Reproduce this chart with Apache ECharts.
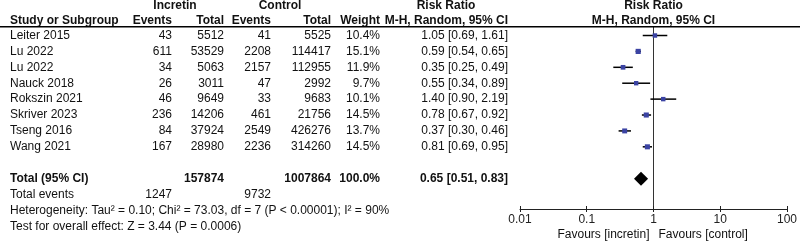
<!DOCTYPE html>
<html>
<head>
<meta charset="utf-8">
<script src="https://cdn.jsdelivr.net/npm/echarts@6/dist/echarts.min.js"></script>
<style>
  html, body { margin: 0; padding: 0; background: #fff; }
  #chart { width: 800px; height: 243px; }
</style>
</head>
<body>
<div id="chart"></div>
<script>
// study level data
const studies = ['Leiter 2015', 'Lu 2022', 'Lu 2022', 'Nauck 2018', 'Rokszin 2021', 'Skriver 2023', 'Tseng 2016', 'Wang 2021'];
const incEvents = [43, 611, 34, 26, 46, 236, 84, 167];
const incTotal = [5512, 53529, 5063, 3011, 9649, 14206, 37924, 28980];
const ctlEvents = [41, 2208, 2157, 47, 33, 461, 2549, 2236];
const ctlTotal = [5525, 114417, 112955, 2992, 9683, 21756, 426276, 314260];
const weights = [10.4, 15.1, 11.9, 9.7, 10.1, 14.5, 13.7, 14.5];
const rr = [1.05, 0.59, 0.35, 0.55, 1.40, 0.78, 0.37, 0.81];
const ciLow = [0.69, 0.54, 0.25, 0.34, 0.90, 0.67, 0.30, 0.69];
const ciHigh = [1.61, 0.65, 0.49, 0.89, 2.19, 0.92, 0.46, 0.95];

// pooled
const pooled = [0.65, 0.51, 0.83];
const pooledTotals = [157874, 1007864];
const pooledEvents = [1247, 9732];
const heterogeneityText = 'Heterogeneity: Tau\u00b2 = 0.10; Chi\u00b2 = 73.03, df = 7 (P < 0.00001); I\u00b2 = 90%';
const overallText = 'Test for overall effect: Z = 3.44 (P = 0.0006)';

const tickValues = [0.01, 0.1, 1, 10, 100];
const tickLabels = ['0.01', '0.1', '1', '10', '100'];
const noEffect = 1;

const FONT = "'Liberation Sans', Arial, sans-serif";
const TXT = '#111';
const totalRow = studies.length + 1;
const rowMin = -0.535, rowMax = 10.91;
const gridLeft = 520;

// column anchors (px)
const col = {study: 10, incEv: 172, incTot: 224, ctlEv: 271, ctlTot: 331, weight: 380, ci: 508};

const fmtCI = (a, b, c) => a.toFixed(2) + ' [' + b.toFixed(2) + ', ' + c.toFixed(2) + ']';

// lines of the left table: row index + cells [x, align, text, bold]
const lines = [];
lines.push({row: -1.9, cells: [[175, 'center', 'Incretin', 1], [280, 'center', 'Control', 1], [446, 'center', 'Risk Ratio', 1], ['fp', 'center', 'Risk Ratio', 1]]});
lines.push({row: -0.95, cells: [[col.study, 'left', 'Study or Subgroup', 1], [col.incEv, 'right', 'Events', 1], [col.incTot, 'right', 'Total', 1],
  [col.ctlEv, 'right', 'Events', 1], [col.ctlTot, 'right', 'Total', 1], [col.weight, 'right', 'Weight', 1],
  [col.ci, 'right', 'M-H, Random, 95% CI', 1], ['fp', 'center', 'M-H, Random, 95% CI', 1]]});
studies.forEach((s, i) => {
  lines.push({row: i, cells: [[col.study, 'left', s], [col.incEv, 'right', incEvents[i]], [col.incTot, 'right', incTotal[i]],
    [col.ctlEv, 'right', ctlEvents[i]], [col.ctlTot, 'right', ctlTotal[i]], [col.weight, 'right', weights[i].toFixed(1) + '%'],
    [col.ci, 'right', fmtCI(rr[i], ciLow[i], ciHigh[i])]]});
});
lines.push({row: totalRow, cells: [[col.study, 'left', 'Total (95% CI)', 1], [col.incTot, 'right', pooledTotals[0], 1],
  [col.ctlTot, 'right', pooledTotals[1], 1], [col.weight, 'right', '100.0%', 1], [col.ci, 'right', fmtCI(pooled[0], pooled[1], pooled[2]), 1]]});
lines.push({row: totalRow + 1, cells: [[col.study, 'left', 'Total events'], [col.incEv, 'right', pooledEvents[0]], [col.ctlEv, 'right', pooledEvents[1]]]});
lines.push({row: totalRow + 2, cells: [[col.study, 'left', heterogeneityText]]});
lines.push({row: totalRow + 3, cells: [[col.study, 'left', overallText]]});
lines.push({row: totalRow + 3.55, cells: [['fl', 'right', 'Favours [incretin]'], ['fr', 'left', 'Favours [control]']]});

const chart = echarts.init(document.getElementById('chart'));

function renderLine(params, api) {
  const line = lines[params.dataIndex];
  const p = api.coord([noEffect, line.row]);
  const children = line.cells.map(c => {
    let x = c[0];
    if (x === 'fp') x = p[0];
    if (x === 'fl') x = p[0] - 4;
    if (x === 'fr') x = p[0] + 5;
    return {
      type: 'text',
      style: {
        x: x, y: p[1], text: String(c[2]), align: c[1], verticalAlign: 'middle',
        font: (c[3] ? 'bold ' : '') + '12px ' + FONT, fill: TXT
      }
    };
  });
  return {type: 'group', children: children};
}

const option = {
  animation: false,
  grid: {left: gridLeft, right: 11, top: 27, bottom: 34},
  xAxis: [
    {
      type: 'log', logBase: 10, min: 0.01, max: 100, position: 'bottom',
      axisLine: {onZero: false, lineStyle: {color: '#222', width: 1}},
      axisTick: {inside: false, length: 3, lineStyle: {color: '#222'}},
      splitLine: {show: false},
      axisLabel: {
        margin: 5, color: '#222', fontFamily: FONT, fontSize: 12,
        formatter: v => {
          const k = tickValues.findIndex(t => Math.abs(Math.log10(t) - Math.log10(v)) < 1e-6);
          return k < 0 ? '' : tickLabels[k];
        }
      }
    },
    {
      type: 'log', logBase: 10, min: 0.01, max: 100, position: 'bottom',
      axisLine: {show: false, onZero: false},
      axisTick: {inside: true, length: 3, lineStyle: {color: '#222'}},
      axisLabel: {show: false},
      splitLine: {show: false}
    }
  ],
  // the y axis line itself is used as the line of no effect (moved onto RR = 1 below)
  yAxis: {
    type: 'value', inverse: true, min: rowMin, max: rowMax, position: 'left',
    axisLine: {show: true, onZero: false, lineStyle: {color: '#333', width: 1}},
    axisTick: {show: false},
    axisLabel: {show: false},
    splitLine: {show: false}
  },
  graphic: [
    {id: 'rule', type: 'line', shape: {x1: 0, y1: 26.75, x2: 800, y2: 26.75}, style: {stroke: '#000', lineWidth: 1.5}, z: 10}
  ],
  series: [
    {
      type: 'custom',
      renderItem: renderLine,
      data: lines.map(l => [noEffect, l.row]),
      clip: false,
      silent: true,
      z: 2
    },
    {
      type: 'custom',
      renderItem: (params, api) => {
        const a = api.coord([api.value(0), api.value(1)]);
        const b = api.coord([api.value(2), api.value(1)]);
        return {type: 'line', shape: {x1: a[0], y1: a[1], x2: b[0], y2: b[1]}, style: {stroke: '#000', lineWidth: 1.5}};
      },
      encode: {x: [0, 2], y: 1},
      data: studies.map((s, i) => [ciLow[i], i, ciHigh[i]]),
      z: 3
    },
    {
      type: 'scatter',
      symbol: 'rect',
      symbolSize: (v, p) => 3 + weights[p.dataIndex] / 7,
      itemStyle: {color: '#3b43a3', opacity: 1},
      data: studies.map((s, i) => [rr[i], i]),
      z: 4
    },
    {
      type: 'custom',
      renderItem: (params, api) => {
        const y = api.value(1);
        const l = api.coord([api.value(0), y]);
        const m = api.coord([api.value(2), y]);
        const r = api.coord([api.value(3), y]);
        const h = 7;
        return {type: 'polygon', shape: {points: [[l[0], l[1]], [m[0], m[1] - h], [r[0], r[1]], [m[0], m[1] + h]]}, style: {fill: '#000'}};
      },
      encode: {x: [0, 2, 3], y: 1},
      data: [[pooled[1], totalRow, pooled[0], pooled[2]]],
      z: 4
    }
  ]
};

chart.setOption(option);

// move the y axis line onto RR = 1 using the x axis scale
let lineX = chart.convertToPixel({xAxisIndex: 0}, noEffect);
if (!isFinite(lineX)) lineX = gridLeft + 0.5 * (800 - 11 - gridLeft);
chart.setOption({yAxis: {offset: -(Math.round(lineX) - gridLeft)}});
</script>
</body>
</html>
